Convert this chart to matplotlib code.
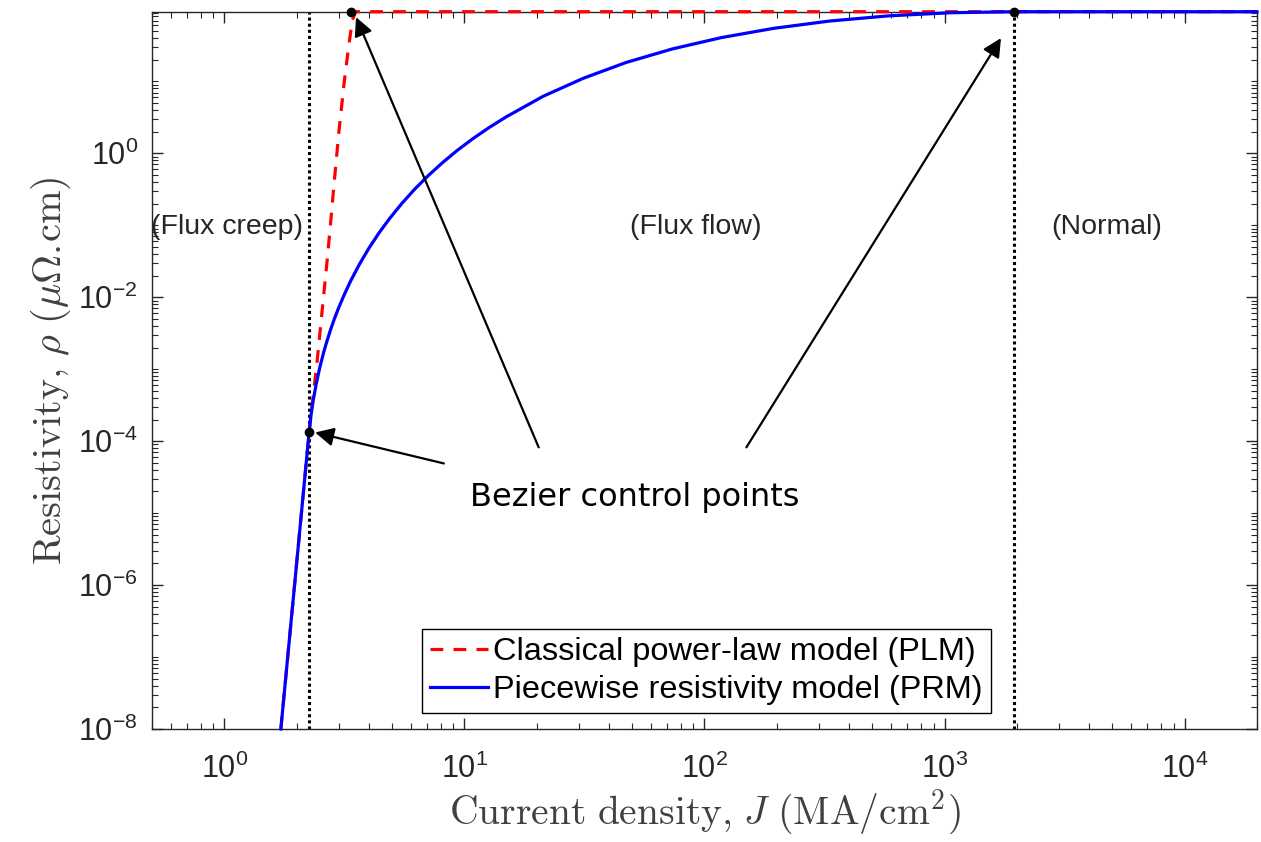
import numpy as np
import matplotlib
matplotlib.use("Agg")
import matplotlib.pyplot as plt
from matplotlib.ticker import LogLocator, NullFormatter

plt.rcParams['font.family'] = ['Liberation Sans', 'DejaVu Sans']
plt.rcParams['axes.unicode_minus'] = False

# piecewise resistivity model (PRM)
J_prm = [1.721, 2.257, 2.276, 2.298, 2.323, 2.352, 2.419, 2.499, 2.595, 2.678,
         2.770, 2.873, 2.989, 3.163, 3.363, 3.656, 4.004, 4.417, 4.909, 5.498,
         6.203, 7.051, 8.074, 9.316, 10.83, 12.68, 14.96, 21.29, 31.22, 47.17,
         73.4, 117.7, 194.4, 330.8, 580, 1048, 1950, 20000]
rho_prm = [1e-8, 1.33e-4, 1.74e-4, 2.27e-4, 2.95e-4, 3.83e-4, 6.38e-4, 1.05e-3,
           1.72e-3, 2.46e-3, 3.51e-3, 4.97e-3, 7.0e-3, 1.09e-2, 1.69e-2, 2.87e-2,
           4.8e-2, 7.88e-2, 0.127, 0.202, 0.316, 0.485, 0.732, 1.09, 1.59, 2.28,
           3.22, 6.2, 11.0, 18.3, 28.2, 40.6, 54.6, 68.8, 81.2, 89.8, 92.9, 92.9]

# classical power-law model (PLM)
J_plm = [1.721, 2.257, 2.443, 2.563, 2.689, 2.778, 2.867, 3.008, 3.155, 3.310,
         3.417, 3.528, 20000]
rho_plm = [1e-8, 1.33e-4, 1.4e-3, 7.0e-3, 3.5e-2, 0.115, 0.38, 2.1, 9.35, 33.7,
           71.0, 92.9, 92.9]

# Bezier control points
J_ctrl = [2.257, 3.38, 1950]
rho_ctrl = [1.33e-4, 92.9, 92.9]

# region boundaries
J_bounds = [2.26, 1950]

regions = ["(Flux creep)", "(Flux flow)", "(Normal)"]
J_regions = [1.03, 91.8, 4740]
rho_regions = 0.094

# annotation arrows: tails and heads
arrow_tail_J = [8.22, 20.4, 149.5]
arrow_tail_rho = [4.9e-5, 8.2e-5, 8.2e-5]
arrow_head_J = [2.39, 3.54, 1718]
arrow_head_rho = [1.32e-4, 78, 39.9]

fig = plt.figure(figsize=(12.61, 8.42), dpi=100)
ax = fig.add_axes([0.1205, 0.1342, 0.8763, 0.8519])

ax.plot(J_plm, rho_plm, color='red', ls=(0, (4, 3.2)), lw=2.3,
        label='Classical power-law model (PLM)', clip_on=False, zorder=3)
ax.plot(J_prm, rho_prm, color='blue', lw=2.3,
        label='Piecewise resistivity model (PRM)', clip_on=False, zorder=4)

for jb in J_bounds:
    ax.axvline(jb, color='black', ls=(0, (1, 1)), lw=2.2, zorder=2)

ax.plot(J_ctrl, rho_ctrl, 'o', color='black', ms=6, clip_on=False, zorder=6)

for txt, jx in zip(regions, J_regions):
    ax.text(jx, rho_regions, txt, ha='center', va='center', fontsize=20.5,
            color='#262626')

for tj, tr, hj, hr in zip(arrow_tail_J, arrow_tail_rho, arrow_head_J, arrow_head_rho):
    ax.annotate('', xy=(hj, hr), xytext=(tj, tr),
                arrowprops=dict(arrowstyle='-|>', color='black', lw=1.6,
                                mutation_scale=28, shrinkA=0, shrinkB=0),
                zorder=7)

ax.text(51.2, 1.65e-5, 'Bezier control points', ha='center', va='center',
        fontsize=23, family='DejaVu Sans', color='black')

ax.set_xscale('log')
ax.set_yscale('log')
ax.set_xlim(0.5, 2e4)
ax.set_ylim(1e-8, 92.9)

ax.xaxis.set_major_locator(LogLocator(base=10, subs=[1.0], numticks=20))
ax.xaxis.set_minor_locator(LogLocator(base=10, subs=np.arange(2, 10), numticks=20))
ax.xaxis.set_minor_formatter(NullFormatter())
ax.set_yticks([1e-8, 1e-6, 1e-4, 1e-2, 1e0])
ax.yaxis.set_minor_locator(LogLocator(base=10, subs=np.arange(1, 10), numticks=30))
ax.yaxis.set_minor_formatter(NullFormatter())

ax.tick_params(which='both', direction='in', top=True, right=True,
               color='#262626', labelcolor='#262626')
ax.tick_params(which='major', length=8, width=1, labelsize=22)
ax.tick_params(axis='y', which='major', pad=10)
ax.tick_params(axis='x', which='major', pad=18)
ax.tick_params(which='minor', length=4, width=0.8)
for s in ax.spines.values():
    s.set_color('#262626')
    s.set_linewidth(1.0)

ax.set_xlabel(r'$\mathrm{Current\ density{,}\ }J\ \mathrm{(MA/cm^2)}$',
              fontsize=28.5, color='#404040', math_fontfamily='cm', labelpad=1)
ax.set_ylabel(r'$\mathrm{Resistivity{,}\ }\rho\ (\mu\Omega\mathrm{.}\!\mathrm{cm})$',
              fontsize=29, color='#404040', math_fontfamily='cm', labelpad=4)

leg = ax.legend(loc='lower left', bbox_to_anchor=(0.244, 0.022), fontsize=23.4,
                frameon=True, fancybox=False, edgecolor='black', framealpha=1,
                handlelength=1.8, handletextpad=0.15, borderpad=0.25,
                labelspacing=0.25, borderaxespad=0)
leg.get_frame().set_linewidth(1.0)

fig.savefig('out.png', dpi=100)
